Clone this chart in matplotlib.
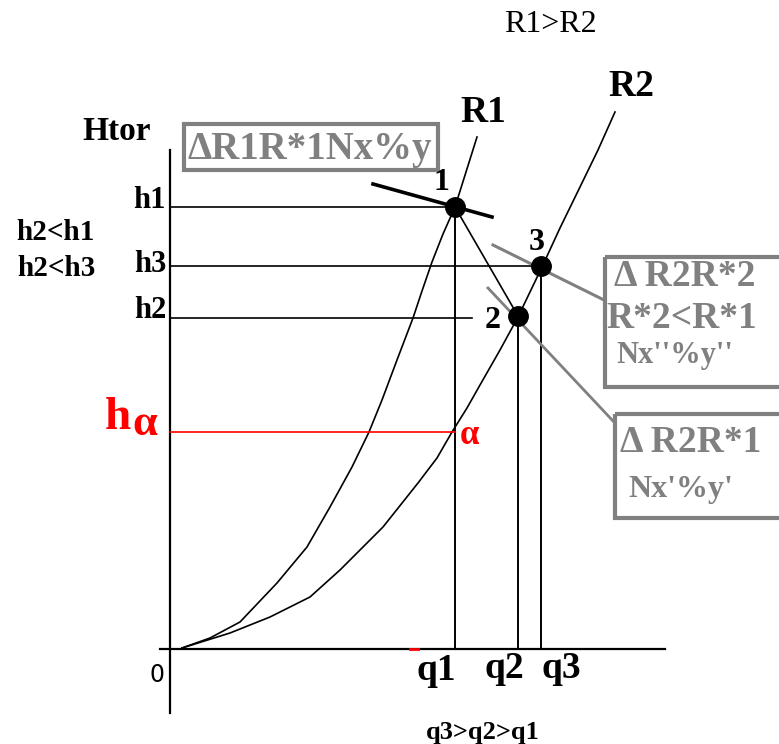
import matplotlib.pyplot as plt
from matplotlib.patches import Rectangle

# curve points (q, H), picture units: x right, y down
r1_q = [182, 210, 240, 277, 307, 330, 352, 369, 382, 397, 413, 422, 432, 443, 455, 466, 477]
r1_h = [648, 638, 622, 583, 547, 507, 467, 432, 400, 360, 318, 291, 262, 234, 207, 172, 137]
r2_q = [182, 230, 270, 310, 340, 383, 418, 437, 452, 467, 480, 500, 518, 542, 560, 580, 598, 615]
r2_h = [648, 633, 617, 597, 570, 527, 483, 458, 432, 408, 385, 350, 317, 267, 228, 187, 150, 112]

# operating points 1, 2, 3
pt_names = ['1', '2', '3']
pt_q = [455, 518, 541]
pt_h = [207, 316, 266]
h_alpha = 432

q_names = ['q1', 'q2', 'q3']
h_names = ['h1', 'h2', 'h3']

serif = 'Liberation Serif'
gray = '#808080'

fig = plt.figure(figsize=(7.79, 7.44), dpi=100)
ax = fig.add_axes([0, 0, 1, 1])
ax.set_xlim(0, 779)
ax.set_ylim(744, 0)
ax.axis('off')

# axes
x0, y0 = 170, 649
ax.plot([x0, x0], [150, 713], color='black', lw=1.6)
ax.plot([160, 665], [y0, y0], color='black', lw=1.6)

# characteristic curves
ax.plot(r1_q, r1_h, color='black', lw=1.2)
ax.plot(r2_q, r2_h, color='black', lw=1.2)

# horizontal guide lines h1, h2, h3
ax.plot([x0, pt_q[0]], [pt_h[0], pt_h[0]], color='black', lw=1.2)
ax.plot([x0, 472], [pt_h[1] + 2, pt_h[1] + 2], color='black', lw=1.2)
ax.plot([x0, pt_q[2]], [pt_h[2], pt_h[2]], color='black', lw=1.2)
# vertical guide lines q1, q2, q3
for q, h in zip(pt_q, pt_h):
    ax.plot([q, q], [h, y0], color='black', lw=1.4)

# h alpha line
ax.plot([x0, pt_q[0]], [h_alpha, h_alpha], color='red', lw=1.2)
ax.plot([410, 418], [y0, y0], color='red', lw=2)

# line 1 -> 2
ax.plot([pt_q[0], pt_q[1]], [pt_h[0], pt_h[1]], color='black', lw=1.2)
# tangent at 1
ax.plot([373, 492], [184, 217], color='black', lw=2.6)
# gray pointer lines
ax.plot([493, 604], [245, 300], color=gray, lw=2.2)
ax.plot([488, 614], [288, 422], color=gray, lw=2)

ax.plot(pt_q, pt_h, 'o', color='black', ms=14)

# boxes
ax.add_patch(Rectangle((184, 124), 254, 46, fill=False, edgecolor=gray, lw=3))
ax.add_patch(Rectangle((605, 257), 180, 130, fill=False, edgecolor=gray, lw=3))
ax.add_patch(Rectangle((615, 414), 170, 104, fill=False, edgecolor=gray, lw=3))

tkw = dict(family=serif, fontweight='bold')
ax.text(188, 149, 'ΔR1R*1Nx%y', color=gray, fontsize=28, va='center', ha='left', **tkw)
ax.text(614, 277, 'Δ R2R*2', color=gray, fontsize=27, va='center', ha='left', **tkw)
ax.text(606, 318, 'R*2<R*1', color=gray, fontsize=27, va='center', ha='left', **tkw)
ax.text(616, 356, "Nx''%y''", color=gray, fontsize=22, va='center', ha='left', **tkw)
ax.text(620, 442, 'Δ R2R*1', color=gray, fontsize=27, va='center', ha='left', **tkw)
ax.text(628, 489, "Nx'%y'", color=gray, fontsize=23, va='center', ha='left', **tkw)

# labels
ax.text(550, 25, 'R1>R2', family=serif, fontsize=23, ha='center', va='center')
ax.text(483, 112, 'R1', fontsize=27, ha='center', va='center', **tkw)
ax.text(631, 86, 'R2', fontsize=27, ha='center', va='center', **tkw)
ax.text(117, 132, 'Htor', fontsize=24, ha='center', va='center', **tkw)
for name, ly in zip(h_names, [200, 310, 265]):
    ax.text(166, ly, name, fontsize=22, ha='right', va='center', **tkw)
ax.text(131, 418, 'h', color='red', fontsize=34, ha='right', va='center', **tkw)
ax.text(132, 424, 'α', color='red', fontsize=32, ha='left', va='center', **tkw)
ax.text(469, 436, 'α', color='red', fontsize=25, ha='center', va='center', **tkw)
ax.text(56, 232, 'h2<h1', fontsize=21, ha='center', va='center', **tkw)
ax.text(56, 268, 'h2<h3', fontsize=21, ha='center', va='center', **tkw)
ax.text(157, 675, '0', family='DejaVu Sans', fontsize=17, ha='center', va='center')
for name, lx, ly in zip(q_names, [436, 504, 561], [671, 668, 668]):
    ax.text(lx, ly, name, fontsize=27, ha='center', va='center', **tkw)
ax.text(483, 732, 'q3>q2>q1', fontsize=19, ha='center', va='center', **tkw)
for name, lx, ly in zip(pt_names, [441, 493, 537], [183, 320, 242]):
    ax.text(lx, ly, name, fontsize=23, ha='center', va='center', **tkw)

fig.savefig('out.png', dpi=100)
